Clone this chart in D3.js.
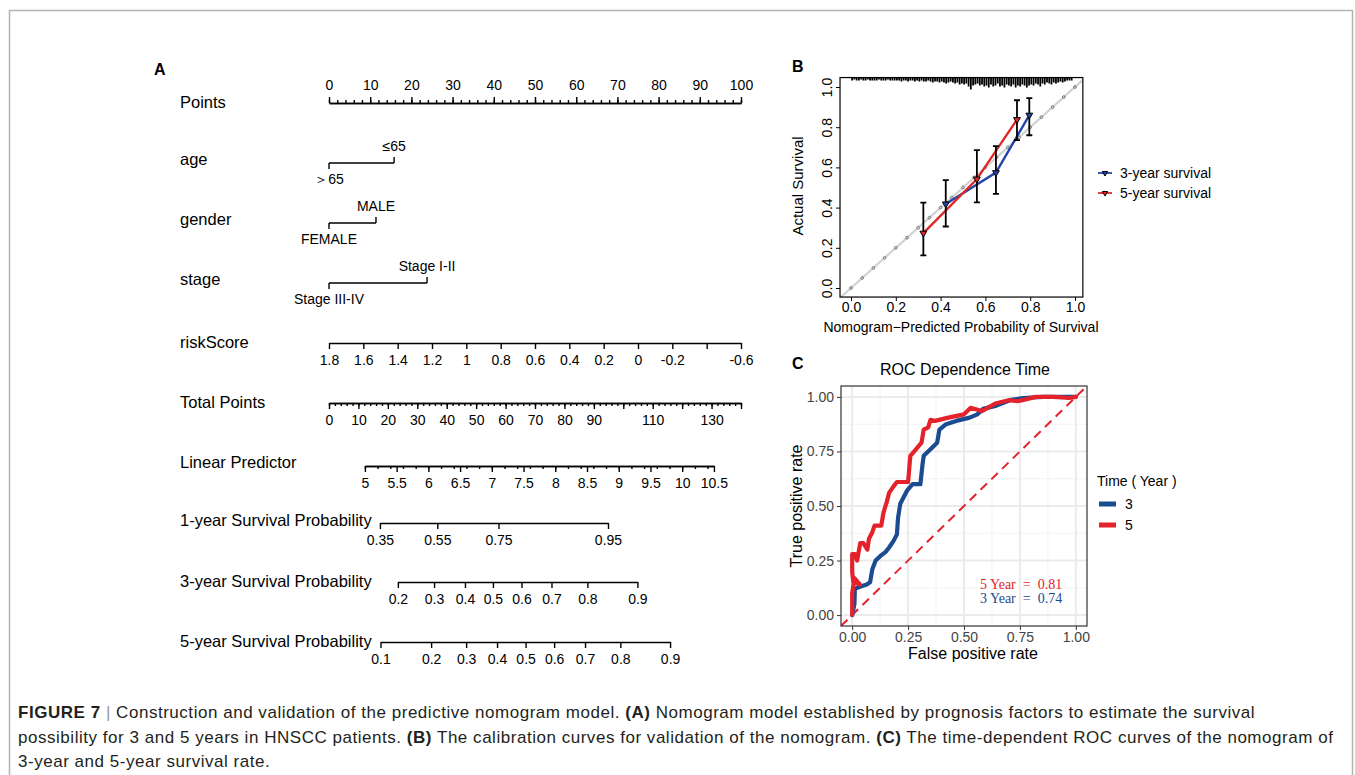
<!DOCTYPE html>
<html>
<head>
<meta charset="utf-8">
<script src="https://cdn.jsdelivr.net/npm/d3@7"></script>
<style>
  body { margin: 0; background: #fff; }
  svg text { font-family: "Liberation Sans", Arial, sans-serif; }
  .nomo path, .nomo line { stroke: #000; stroke-width: 1.4; fill: none; }
  .nomo .tick text { font-size: 14px; fill: #000; }
  .cal .tick text { font-size: 14px; fill: #000; }
  .cal path, .cal line { stroke: #000; stroke-width: 1; }
  .roc .tick text { font-size: 14px; fill: #444; }
  .roc .tick line { stroke: #333; }
  .roc .domain { display: none; }
</style>
</head>
<body>
<svg id="fig"></svg>
<script>
// ---------------- data ----------------

// A: nomogram
var pointsTicks = [0, 10, 20, 30, 40, 50, 60, 70, 80, 90, 100];
var ageLevels = [{ label: "＞65", points: 0 }, { label: "≤65", points: 15.8 }];
var genderLevels = [{ label: "FEMALE", points: 0 }, { label: "MALE", points: 11.4 }];
var stageLevels = [{ label: "Stage III-IV", points: 0 }, { label: "Stage I-II", points: 23.8 }];
var riskTicks = [1.8, 1.6, 1.4, 1.2, 1, 0.8, 0.6, 0.4, 0.2, 0, -0.2, -0.4, -0.6];
var riskLabels = ["1.8", "1.6", "1.4", "1.2", "1", "0.8", "0.6", "0.4", "0.2", "0", "-0.2", "", "-0.6"];
var totalTicks = [0, 10, 20, 30, 40, 50, 60, 70, 80, 90, 100, 110, 120, 130, 140];
var totalLabels = ["0", "10", "20", "30", "40", "50", "60", "70", "80", "90", "", "110", "", "130", ""];
var lpTicks = [5, 5.5, 6, 6.5, 7, 7.5, 8, 8.5, 9, 9.5, 10, 10.5];
var lpLabels = ["5", "5.5", "6", "6.5", "7", "7.5", "8", "8.5", "9", "9.5", "10", "10.5"];
var lpTotalRange = [12.2, 130.8]; // total points where LP = 5 and LP = 10.5
// survival probability ticks and their total points
var surv1 = [[0.35, 17.3], [0.55, 36.8], [0.75, 57.6], [0.95, 94.8]];
var surv3 = [[0.2, 23.4], [0.3, 35.7], [0.4, 46.2], [0.5, 55.7], [0.6, 65.4], [0.7, 75.6], [0.8, 87.8], [0.9, 104.8]];
var surv5 = [[0.1, 17.5], [0.2, 34.7], [0.3, 46.6], [0.4, 57.1], [0.5, 66.8], [0.6, 76.5], [0.7, 87.0], [0.8, 99.0], [0.9, 115.9]];

// B: calibration
var cal3 = [
  { pred: 0.423, obs: 0.418, lo: 0.306, hi: 0.537 },
  { pred: 0.647, obs: 0.574, lo: 0.468, hi: 0.706 },
  { pred: 0.796, obs: 0.860, lo: 0.760, hi: 0.945 }
];
var cal5 = [
  { pred: 0.323, obs: 0.273, lo: 0.162, hi: 0.425 },
  { pred: 0.562, obs: 0.542, lo: 0.426, hi: 0.686 },
  { pred: 0.741, obs: 0.838, lo: 0.736, hi: 0.934 }
];
var calTicks = [0, 0.2, 0.4, 0.6, 0.8, 1.0];
var idealDots = [0, 0.05, 0.1, 0.15, 0.2, 0.25, 0.3, 0.35, 0.4, 0.45, 0.5, 0.55, 0.6, 0.65, 0.7, 0.75, 0.8, 0.85, 0.9, 0.95, 1];
// spike histogram of predicted probabilities (bins of 0.01 from 0)
var rugCounts = [
  1, 0, 1, 1, 0, 1, 1, 0, 1, 1,
  1, 1, 0, 1, 1, 1, 0, 1, 1, 1,
  1, 1, 2, 1, 1, 2, 1, 1, 2, 1,
  2, 1, 2, 2, 1, 2, 3, 2, 2, 3,
  2, 3, 4, 3, 2, 3, 4, 3, 5, 4,
  5, 4, 7, 10, 6, 5, 4, 6, 5, 7,
  6, 8, 5, 7, 6, 4, 7, 6, 8, 5,
  6, 7, 5, 8, 6, 7, 5, 6, 8, 6,
  5, 6, 4, 5, 7, 4, 5, 3, 4, 5,
  3, 4, 3, 2, 3, 2, 1, 1, 1
];

// C: ROC
var roc3 = [[0, 0], [0.01, 0.05], [0.012, 0.12], [0.035, 0.13], [0.065, 0.14], [0.08, 0.15], [0.09, 0.21],
  [0.105, 0.25], [0.125, 0.27], [0.15, 0.29], [0.165, 0.31], [0.185, 0.34], [0.2, 0.37], [0.205, 0.445],
  [0.215, 0.51], [0.23, 0.54], [0.245, 0.57], [0.27, 0.6], [0.305, 0.6], [0.315, 0.695], [0.32, 0.73],
  [0.35, 0.76], [0.38, 0.79], [0.39, 0.85], [0.42, 0.875], [0.465, 0.89], [0.525, 0.905], [0.56, 0.92],
  [0.585, 0.945], [0.645, 0.96], [0.705, 0.985], [0.765, 0.995], [0.855, 1.0], [1, 1]];
var roc5 = [[0, 0], [0, 0.1], [0.01, 0.17], [0.035, 0.14], [0.005, 0.15], [0, 0.2], [0, 0.28], [0.012, 0.28],
  [0.022, 0.25], [0.036, 0.33], [0.05, 0.33], [0.068, 0.3], [0.075, 0.35], [0.09, 0.38], [0.1, 0.41],
  [0.13, 0.41], [0.14, 0.47], [0.155, 0.52], [0.165, 0.56], [0.185, 0.59], [0.2, 0.61], [0.25, 0.61],
  [0.26, 0.73], [0.285, 0.76], [0.31, 0.79], [0.32, 0.85], [0.34, 0.86], [0.35, 0.895], [0.37, 0.89],
  [0.43, 0.905], [0.5, 0.92], [0.53, 0.95], [0.58, 0.935], [0.64, 0.97], [0.7, 0.985], [0.74, 0.98],
  [0.78, 0.99], [0.82, 1.0], [0.9, 1.0], [0.97, 0.995], [1, 1]];
var rocTicks = [0, 0.25, 0.5, 0.75, 1];
var rocMinor = [0.125, 0.375, 0.625, 0.875];
var aucLabels = [{ text: "5 Year  =  0.81", key: "5" }, { text: "3 Year  =  0.74", key: "3" }];
var timeKeys = ["3", "5"];

var COLORS = { calBlue: "#2446a8", calRed: "#e0282a", rocBlue: "#1b4b91", rocRed: "#e3222b" };

// ---------------- setup ----------------
var svg = d3.select("#fig").attr("width", 1355).attr("height", 775);
svg.append("rect").attr("width", 1355).attr("height", 775).attr("fill", "#fff");

// page frame
svg.append("path")
  .attr("d", "M9.5,775V10.5H1352.5V775")
  .attr("fill", "none").attr("stroke", "#b4b4b4").attr("stroke-width", 1.5);

// panel letters
[["A", 154, 75], ["B", 792, 72], ["C", 792, 369]].forEach(function(d) {
  svg.append("text").attr("x", d[1]).attr("y", d[2]).text(d[0])
    .style("font-size", "16px").style("font-weight", "bold");
});

// ---------------- A: nomogram ----------------
var nomo = svg.append("g").attr("class", "nomo");
var xPts = d3.scaleLinear().domain([0, 100]).range([329, 741]);
var xTot = d3.scaleLinear().domain([0, 140]).range([329, 741]);
var xRisk = d3.scaleLinear().domain([1.8, -0.6]).range([329, 741]);
var xLP = d3.scaleLinear().domain([5, 10.5]).range(lpTotalRange.map(xTot));

var rowTitles = ["Points", "age", "gender", "stage", "riskScore", "Total Points", "Linear Predictor",
  "1-year Survival Probability", "3-year Survival Probability", "5-year Survival Probability"];
var rowLine = [103, 163, 223, 283, 343, 403, 466, 523, 582, 642];

nomo.selectAll("text.row")
  .data(rowTitles)
  .enter()
  .append("text")
  .attr("class", "row")
  .attr("x", 180)
  .attr("y", (d, i) => rowLine[i] + (i >= 1 && i <= 3 ? 2 : 5) + (i == 6 ? -3 : 0) + (i == 7 ? -2 : 0))
  .style("font-size", "16.5px")
  .text(d => d);

var axisRow = function(y, axis) {
  return nomo.append("g").attr("transform", `translate(0,${y})`).call(axis);
};

// Points: ticks and labels above
axisRow(rowLine[0], d3.axisTop(xPts).tickValues(pointsTicks).tickSize(6).tickSizeOuter(0).tickPadding(7));
axisRow(rowLine[0], d3.axisTop(xPts).ticks(50).tickSize(3).tickSizeOuter(0).tickFormat(""));

// categorical brackets
var bracket = function(levels, y) {
  var g = nomo.append("g");
  g.append("line")
    .attr("x1", xPts(levels[0].points)).attr("x2", xPts(levels[levels.length - 1].points))
    .attr("y1", y).attr("y2", y);
  levels.forEach(function(d, i) {
    var up = i % 2 == 1;
    g.append("line")
      .attr("x1", xPts(d.points)).attr("x2", xPts(d.points))
      .attr("y1", y).attr("y2", up ? y - 6 : y + 6);
    g.append("text")
      .attr("x", xPts(d.points))
      .attr("y", up ? y - 12 : y + 21)
      .attr("text-anchor", "middle")
      .style("font-size", "14px")
      .text(d.label);
  });
};
bracket(ageLevels, rowLine[1]);
bracket(genderLevels, rowLine[2]);
bracket(stageLevels, rowLine[3]);

// riskScore
axisRow(rowLine[4], d3.axisBottom(xRisk).tickValues(riskTicks).tickSize(6).tickSizeOuter(0).tickPadding(6)
  .tickFormat((d, i) => riskLabels[i]));

// Total points
axisRow(rowLine[5], d3.axisBottom(xTot).tickValues(totalTicks).tickSize(6).tickSizeOuter(0).tickPadding(6)
  .tickFormat((d, i) => totalLabels[i]));
axisRow(rowLine[5], d3.axisBottom(xTot).ticks(70).tickSize(3).tickSizeOuter(0).tickFormat(""));

// Linear predictor
axisRow(rowLine[6], d3.axisBottom(xLP).tickValues(lpTicks).tickSize(6).tickSizeOuter(0).tickPadding(6)
  .tickFormat((d, i) => lpLabels[i]));
axisRow(rowLine[6], d3.axisBottom(xLP).ticks(22).tickSize(3).tickSizeOuter(0).tickFormat(""));

// survival probabilities
[surv1, surv3, surv5].forEach(function(s, k) {
  var sc = d3.scaleLinear()
    .domain([s[0][1], s[s.length - 1][1]])
    .range([xTot(s[0][1]), xTot(s[s.length - 1][1])]);
  axisRow(rowLine[7 + k], d3.axisBottom(sc).tickValues(s.map(d => d[1])).tickSize(6).tickSizeOuter(0)
    .tickPadding(6).tickFormat((d, i) => s[i][0]));
});

// ---------------- B: calibration ----------------
var cal = svg.append("g").attr("class", "cal");
var xCal = d3.scaleLinear().domain([0, 1]).range([851, 1075]);
var yCal = d3.scaleLinear().domain([0, 1]).range([288, 87]);
var calX = [-0.049, 1.035], calY = [-0.045, 1.047];

cal.append("clipPath").attr("id", "calClip").append("rect")
  .attr("x", xCal(calX[0])).attr("y", yCal(calY[1]))
  .attr("width", xCal(calX[1]) - xCal(calX[0])).attr("height", yCal(calY[0]) - yCal(calY[1]));

var calPlot = cal.append("g").attr("clip-path", "url(#calClip)");

// ideal line
calPlot.append("line")
  .attr("x1", xCal(-0.1)).attr("y1", yCal(-0.1)).attr("x2", xCal(1.1)).attr("y2", yCal(1.1))
  .style("stroke", "#d2d2d2").style("stroke-width", 2.2);
calPlot.selectAll("circle.ideal")
  .data(idealDots)
  .enter()
  .append("circle")
  .attr("class", "ideal")
  .attr("cx", d => xCal(d)).attr("cy", d => yCal(d)).attr("r", 1.4)
  .attr("fill", "none").attr("stroke", "#666").attr("stroke-width", 0.8);

// spike histogram at top
var rugH = d3.scaleLinear().domain([0, 10]).range([2, 12]);
calPlot.selectAll("line.rug")
  .data(rugCounts)
  .enter()
  .append("line")
  .attr("class", "rug")
  .attr("x1", (d, i) => xCal(i / 100 + 0.005)).attr("x2", (d, i) => xCal(i / 100 + 0.005))
  .attr("y1", yCal(calY[1]))
  .attr("y2", d => yCal(calY[1]) + rugH(d))
  .style("stroke-width", 1.8);

// curves
var calLine = d3.line().x(d => xCal(d.pred)).y(d => yCal(d.obs));
[[cal3, COLORS.calBlue], [cal5, COLORS.calRed]].forEach(function(s) {
  calPlot.append("path").attr("d", calLine(s[0]))
    .style("stroke", s[1]).style("stroke-width", 2.4).style("fill", "none");
});
// error bars
[cal3, cal5].forEach(function(s) {
  var g = calPlot.append("g");
  s.forEach(function(d) {
    g.append("line").attr("x1", xCal(d.pred)).attr("x2", xCal(d.pred))
      .attr("y1", yCal(d.lo)).attr("y2", yCal(d.hi)).style("stroke-width", 1.8);
    [d.lo, d.hi].forEach(function(v) {
      g.append("line").attr("x1", xCal(d.pred) - 3).attr("x2", xCal(d.pred) + 3)
        .attr("y1", yCal(v)).attr("y2", yCal(v)).style("stroke-width", 1.8);
    });
  });
});
// markers
[[cal3, COLORS.calBlue], [cal5, COLORS.calRed]].forEach(function(s) {
  calPlot.selectAll(null)
    .data(s[0])
    .enter()
    .append("path")
    .attr("d", d3.symbol(d3.symbolTriangle, 20))
    .attr("transform", d => `translate(${xCal(d.pred)},${yCal(d.obs)}) rotate(180)`)
    .attr("fill", s[1]);
});

cal.append("rect")
  .attr("x", xCal(calX[0])).attr("y", yCal(calY[1]))
  .attr("width", xCal(calX[1]) - xCal(calX[0])).attr("height", yCal(calY[0]) - yCal(calY[1]))
  .attr("fill", "none").attr("stroke", "#000").attr("stroke-width", 1.2);

cal.append("g").attr("transform", `translate(0,${yCal(calY[0])})`)
  .call(d3.axisBottom(xCal).tickValues(calTicks).tickSize(4).tickSizeOuter(0).tickPadding(1).tickFormat(d3.format(".1f")));
var yAx = cal.append("g").attr("transform", `translate(${xCal(calX[0])},0)`)
  .call(d3.axisLeft(yCal).tickValues(calTicks).tickSize(4).tickSizeOuter(0).tickPadding(3).tickFormat(d3.format(".1f")));
yAx.selectAll(".tick text")
  .attr("transform", "rotate(-90)")
  .attr("x", 0).attr("dx", 0).attr("y", -8).attr("dy", 0)
  .attr("text-anchor", "middle");
cal.selectAll(".domain").remove();

cal.append("text")
  .attr("x", 961).attr("y", 332)
  .attr("text-anchor", "middle")
  .style("font-size", "14px")
  .text("Nomogram\u2212Predicted Probability of Survival");
cal.append("text")
  .attr("transform", "translate(803,186) rotate(-90)")
  .attr("text-anchor", "middle")
  .style("font-size", "15px")
  .text("Actual Survival");

// legend B
var calLegend = cal.append("g")
  .selectAll("g")
  .data([["3-year survival", COLORS.calBlue], ["5-year survival", COLORS.calRed]])
  .enter()
  .append("g")
  .attr("transform", (d, i) => `translate(1098,${173 + i * 20})`);
calLegend.append("line").attr("x1", 0).attr("x2", 14).style("stroke", d => d[1]).style("stroke-width", 1.8);
calLegend.append("path").attr("d", d3.symbol(d3.symbolTriangle, 12))
  .attr("transform", "translate(7,0) rotate(180)").attr("fill", d => d[1]);
calLegend.append("text").attr("x", 22).attr("y", 5).style("font-size", "14px").text(d => d[0]);

// ---------------- C: ROC ----------------
var roc = svg.append("g").attr("class", "roc");
var xRoc = d3.scaleLinear().domain([-0.05, 1.05]).range([841, 1087]);
var yRoc = d3.scaleLinear().domain([-0.05, 1.05]).range([626, 386]);

roc.append("clipPath").attr("id", "rocClip").append("rect")
  .attr("x", 841).attr("y", 386).attr("width", 246).attr("height", 240);

// grid
var grid = roc.append("g");
grid.selectAll("line.vmin").data(rocMinor).enter().append("line")
  .attr("x1", d => xRoc(d)).attr("x2", d => xRoc(d)).attr("y1", 386).attr("y2", 626)
  .style("stroke", "#f2f2f2").style("stroke-width", 1);
grid.selectAll("line.hmin").data(rocMinor).enter().append("line")
  .attr("y1", d => yRoc(d)).attr("y2", d => yRoc(d)).attr("x1", 841).attr("x2", 1087)
  .style("stroke", "#f2f2f2").style("stroke-width", 1);
grid.selectAll("line.vmaj").data(rocTicks).enter().append("line")
  .attr("x1", d => xRoc(d)).attr("x2", d => xRoc(d)).attr("y1", 386).attr("y2", 626)
  .style("stroke", "#ebebeb").style("stroke-width", 2);
grid.selectAll("line.hmaj").data(rocTicks).enter().append("line")
  .attr("y1", d => yRoc(d)).attr("y2", d => yRoc(d)).attr("x1", 841).attr("x2", 1087)
  .style("stroke", "#ebebeb").style("stroke-width", 2);

var rocPlot = roc.append("g").attr("clip-path", "url(#rocClip)");
rocPlot.append("line")
  .attr("x1", xRoc(-0.05)).attr("y1", yRoc(-0.05)).attr("x2", xRoc(1.05)).attr("y2", yRoc(1.05))
  .style("stroke", COLORS.rocRed).style("stroke-width", 2).style("stroke-dasharray", "9,6");

var rocLine = d3.line().x(d => xRoc(d[0])).y(d => yRoc(d[1]));
[[roc3, COLORS.rocBlue], [roc5, COLORS.rocRed]].forEach(function(s) {
  rocPlot.append("path").attr("d", rocLine(s[0]))
    .style("fill", "none").style("stroke", s[1]).style("stroke-width", 4.2)
    .style("stroke-linejoin", "round").style("stroke-linecap", "round");
});

roc.append("rect").attr("x", 841).attr("y", 386).attr("width", 246).attr("height", 240)
  .attr("fill", "none").attr("stroke", "#333").attr("stroke-width", 1.2);

roc.append("g").attr("transform", "translate(0,626)")
  .call(d3.axisBottom(xRoc).tickValues(rocTicks).tickSize(4).tickPadding(2).tickFormat(d3.format(".2f")));
roc.append("g").attr("transform", "translate(841,0)")
  .call(d3.axisLeft(yRoc).tickValues(rocTicks).tickSize(4).tickPadding(3).tickFormat(d3.format(".2f")));

// AUC labels
roc.selectAll("text.auc")
  .data(aucLabels)
  .enter()
  .append("text")
  .attr("class", "auc")
  .attr("x", 980).attr("y", (d, i) => 589 + i * 13.5)
  .attr("xml:space", "preserve")
  .style("white-space", "pre")
  .style("font-family", "'Liberation Serif', 'Times New Roman', serif")
  .style("font-size", "14px")
  .attr("fill", d => d.key == "5" ? COLORS.rocRed : COLORS.rocBlue)
  .text(d => d.text);

roc.append("text").attr("x", 965).attr("y", 375).attr("text-anchor", "middle")
  .style("font-size", "16px").text("ROC Dependence Time");
roc.append("text").attr("x", 973).attr("y", 659).attr("text-anchor", "middle")
  .style("font-size", "16px").text("False positive rate");
roc.append("text").attr("transform", "translate(802,506) rotate(-90)").attr("text-anchor", "middle")
  .style("font-size", "16px").text("True positive rate");

// legend C
roc.append("text").attr("x", 1097).attr("y", 486).style("font-size", "14px").text("Time ( Year )");
var rocLegend = roc.selectAll("g.key")
  .data(timeKeys)
  .enter()
  .append("g")
  .attr("class", "key")
  .attr("transform", (d, i) => `translate(1099,${504 + i * 21})`);
rocLegend.append("rect").attr("x", 0).attr("y", -2.5).attr("width", 17).attr("height", 5)
  .attr("fill", d => d == "3" ? COLORS.rocBlue : COLORS.rocRed);
rocLegend.append("text").attr("x", 26).attr("y", 5).style("font-size", "14px").text(d => d);

// ---------------- caption ----------------
var captionLines = [
  [["FIGURE 7", "b"], [" | ", "sep"], ["Construction and validation of the predictive nomogram model. ", ""], ["(A)", "b"],
   [" Nomogram model established by prognosis factors to estimate the survival", ""]],
  [["possibility for 3 and 5 years in HNSCC patients. ", ""], ["(B)", "b"],
   [" The calibration curves for validation of the nomogram. ", ""], ["(C)", "b"],
   [" The time-dependent ROC curves of the nomogram of", ""]],
  [["3-year and 5-year survival rate.", ""]]
];
var caption = svg.append("g");
captionLines.forEach(function(line, i) {
  var t = caption.append("text")
    .attr("x", 18).attr("y", 718 + i * 24.5)
    .attr("xml:space", "preserve")
    .style("font-size", "17px").style("letter-spacing", "0.53px").style("fill", "#231f20");
  line.forEach(function(seg) {
    t.append("tspan")
      .style("font-weight", seg[1] == "b" ? "bold" : "normal")
      .style("fill", seg[1] == "sep" ? "#999" : null)
      .text(seg[0]);
  });
});
</script>
</body>
</html>
